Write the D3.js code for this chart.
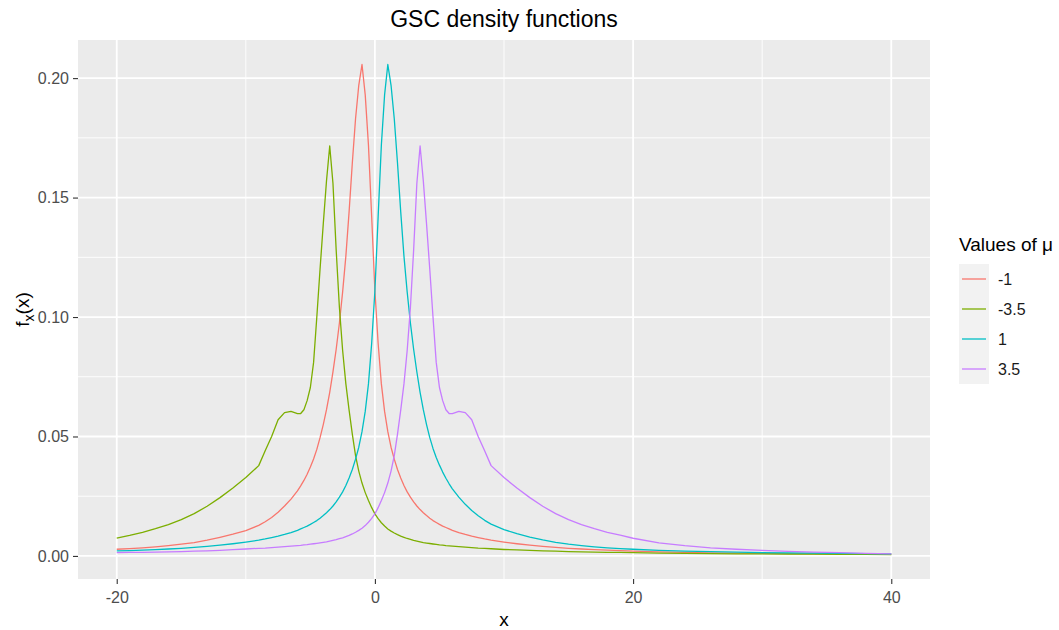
<!DOCTYPE html>
<html>
<head>
<meta charset="utf-8">
<title>GSC density functions</title>
<style>
  body { margin: 0; background: #fff; }
  svg { display: block; font-family: "Liberation Sans", Arial, sans-serif; }
</style>
</head>
<body>
<script src="https://cdn.jsdelivr.net/npm/d3@7"></script>
<script>

// x grid shared by all four curves
var xGrid = [-20,-19,-18,-17,-16,-15,-14,-13,-12,-11,-10,-9,-8.5,-8,-7.5,-7,-6.5,-6,
  -5.75,-5.5,-5.25,-5,-4.75,-4.5,-4.25,-4,-3.75,-3.5,-3.25,-3,-2.75,-2.5,-2.25,-2,-1.75,-1.5,-1.25,-1,
  -0.75,-0.5,-0.25,0,0.25,0.5,0.75,1,1.25,1.5,1.75,2,2.25,2.5,2.75,3,3.25,3.5,3.75,4,4.25,4.5,4.75,5,
  5.25,5.5,5.75,6,6.5,7,7.5,8,8.5,9,10,11,12,13,14,15,16,17,18,19,20,22,24,26,28,30,32,34,36,38,40];

// density values, one array per mu
var muMinus1 = [0.0028,0.0031,0.0034,0.0038,0.0043,0.0049,0.0056,0.0066,0.0078,0.0091,0.0106,0.0128,0.0143,0.0161,0.0183,0.0209,0.0238,0.0272,
  0.0293,0.0316,0.0342,0.0372,0.0406,0.0446,0.0495,0.0550,0.0612,0.0685,0.0770,0.0865,0.0975,0.1105,0.1255,0.1440,0.1645,0.1830,0.1970,0.2057,
  0.1930,0.1720,0.1420,0.1110,0.0890,0.0720,0.0605,0.0520,0.0455,0.0405,0.0362,0.0326,0.0295,0.0268,0.0246,0.0226,0.0209,0.0194,0.0181,0.0169,0.0158,0.0148,0.0140,0.0132,
  0.0125,0.0119,0.0113,0.0107,0.0098,0.0090,0.0083,0.0077,0.0071,0.0066,0.0058,0.0051,0.0045,0.0040,0.0036,0.0032,0.0029,0.0026,0.0024,0.0022,0.0020,0.0017,0.0015,0.0013,0.0012,0.0011,0.0010,0.0009,0.0008,0.0008,0.0007];

var muMinus35 = [0.0075,0.0086,0.0099,0.0114,0.0131,0.0152,0.0177,0.0208,0.0244,0.0284,0.0328,0.0378,0.0440,0.0500,0.0570,0.0600,0.0605,0.0596,
  0.0596,0.0612,0.0650,0.0705,0.0810,0.1000,0.1200,0.1390,0.1570,0.1716,0.1560,0.1280,0.1040,0.0860,0.0720,0.0610,0.0510,0.0420,0.0355,0.0305,
  0.0265,0.0232,0.0202,0.0176,0.0156,0.0139,0.0125,0.0113,0.0104,0.0096,0.0089,0.0083,0.0078,0.0073,0.0069,0.0065,0.0062,0.0059,0.0056,0.0054,0.0052,0.0050,0.0048,0.0046,
  0.0045,0.0043,0.0042,0.0041,0.0039,0.0037,0.0035,0.0033,0.0032,0.0030,0.0027,0.0025,0.0023,0.0021,0.0020,0.0018,0.0017,0.0016,0.0015,0.0015,0.0014,0.0012,0.0011,0.0010,0.0009,0.0009,0.0008,0.0008,0.0007,0.0007,0.0006];

var muPlus1 = [0.0021,0.0022,0.0024,0.0026,0.0029,0.0032,0.0036,0.0040,0.0045,0.0051,0.0058,0.0066,0.0071,0.0077,0.0083,0.0090,0.0098,0.0107,
  0.0113,0.0119,0.0125,0.0132,0.0140,0.0148,0.0158,0.0169,0.0181,0.0194,0.0209,0.0226,0.0246,0.0268,0.0295,0.0326,0.0362,0.0405,0.0455,0.0520,
  0.0605,0.0720,0.0890,0.1110,0.1420,0.1720,0.1930,0.2057,0.1970,0.1830,0.1645,0.1440,0.1255,0.1105,0.0975,0.0865,0.0770,0.0685,0.0612,0.0550,0.0495,0.0450,0.0412,0.0380,
  0.0351,0.0325,0.0302,0.0281,0.0246,0.0216,0.0190,0.0168,0.0149,0.0133,0.0110,0.0093,0.0079,0.0067,0.0057,0.0049,0.0043,0.0038,0.0034,0.0031,0.0028,0.0023,0.0020,0.0018,0.0016,0.0014,0.0013,0.0012,0.0011,0.0010,0.0009];

var muPlus35 = [0.0014,0.0015,0.0015,0.0016,0.0017,0.0018,0.0020,0.0021,0.0023,0.0026,0.0029,0.0032,0.0033,0.0035,0.0037,0.0039,0.0041,0.0043,
  0.0044,0.0046,0.0047,0.0049,0.0051,0.0053,0.0055,0.0057,0.0059,0.0062,0.0065,0.0068,0.0072,0.0076,0.0081,0.0086,0.0092,0.0099,0.0107,0.0116,
  0.0127,0.0141,0.0157,0.0176,0.0202,0.0232,0.0265,0.0305,0.0355,0.0420,0.0510,0.0610,0.0720,0.0860,0.1040,0.1280,0.1560,0.1716,0.1570,0.1390,0.1200,0.1000,0.0810,0.0705,
  0.0650,0.0612,0.0596,0.0596,0.0605,0.0600,0.0570,0.0500,0.0440,0.0378,0.0328,0.0284,0.0244,0.0208,0.0177,0.0152,0.0131,0.0114,0.0099,0.0087,0.0074,0.0055,0.0043,0.0034,0.0028,0.0023,0.0019,0.0016,0.0014,0.0011,0.0009];

var seriesNames  = ["-1", "-3.5", "1", "3.5"];
var seriesValues = [muMinus1, muMinus35, muPlus1, muPlus35];
var seriesColors = ["#F8766D", "#7CAE00", "#00BFC4", "#C77CFF"];

var xMajor = [-20, 0, 20, 40];
var xMinor = [-10, 10, 30];
var yMajor = [0, 0.05, 0.10, 0.15, 0.20];
var yMinor = [0.025, 0.075, 0.125, 0.175];

var W = 1059, H = 630;
var panel = {left: 78, right: 930, top: 40, bottom: 579};

var svg = d3.select("body").append("svg")
    .attr("width", W)
    .attr("height", H);

// ggplot style 5% expansion of the data range
var xExt = d3.extent(xGrid), xPad = (xExt[1] - xExt[0]) * 0.05;
var allY = d3.merge(seriesValues);
var yExt = d3.extent(allY), yPad = (yExt[1] - yExt[0]) * 0.05;

var x = d3.scaleLinear()
    .domain([xExt[0] - xPad, xExt[1] + xPad])
    .range([panel.left, panel.right]);
var y = d3.scaleLinear()
    .domain([yExt[0] - yPad, yExt[1] + yPad])
    .range([panel.bottom, panel.top]);

// panel background
svg.append("rect")
    .attr("x", panel.left).attr("y", panel.top)
    .attr("width", panel.right - panel.left)
    .attr("height", panel.bottom - panel.top)
    .attr("fill", "#EBEBEB");

var grid = svg.append("g");
grid.selectAll(".xmin").data(xMinor).enter().append("line")
    .attr("x1", d => x(d)).attr("x2", d => x(d))
    .attr("y1", panel.top).attr("y2", panel.bottom)
    .attr("stroke", "#fff").attr("stroke-width", 0.9);
grid.selectAll(".ymin").data(yMinor).enter().append("line")
    .attr("y1", d => y(d)).attr("y2", d => y(d))
    .attr("x1", panel.left).attr("x2", panel.right)
    .attr("stroke", "#fff").attr("stroke-width", 0.9);
grid.selectAll(".xmaj").data(xMajor).enter().append("line")
    .attr("x1", d => x(d)).attr("x2", d => x(d))
    .attr("y1", panel.top).attr("y2", panel.bottom)
    .attr("stroke", "#fff").attr("stroke-width", 1.8);
grid.selectAll(".ymaj").data(yMajor).enter().append("line")
    .attr("y1", d => y(d)).attr("y2", d => y(d))
    .attr("x1", panel.left).attr("x2", panel.right)
    .attr("stroke", "#fff").attr("stroke-width", 1.8);

// curves
var line = d3.line()
    .x(d => x(d[0]))
    .y(d => y(d[1]));

seriesValues.forEach(function(vals, i) {
    svg.append("path")
        .datum(xGrid.map((xv, j) => [xv, vals[j]]))
        .attr("d", line)
        .attr("fill", "none")
        .attr("stroke", seriesColors[i])
        .attr("stroke-width", 1.3)
        .attr("stroke-linejoin", "round");
});

// axes
var xAxis = svg.append("g")
    .attr("transform", `translate(0,${panel.bottom})`)
    .call(d3.axisBottom(x).tickValues(xMajor).tickSize(5).tickPadding(5).tickFormat(d => String(d)));
var yAxis = svg.append("g")
    .attr("transform", `translate(${panel.left},0)`)
    .call(d3.axisLeft(y).tickValues(yMajor).tickSize(5).tickPadding(4).tickFormat(d3.format(".2f")));

[xAxis, yAxis].forEach(function(a) {
    a.select(".domain").remove();
    a.selectAll(".tick line").attr("stroke", "#333333").attr("stroke-width", 1.1);
    a.selectAll(".tick text")
        .attr("fill", "#4D4D4D")
        .style("font-size", "16px")
        .style("font-family", "'Liberation Sans', Arial, sans-serif");
});
xAxis.selectAll(".tick text").attr("dy", "0.85em");

// title and axis titles
svg.append("text")
    .attr("x", (panel.left + panel.right) / 2)
    .attr("y", 27)
    .attr("text-anchor", "middle")
    .style("font-size", "23px")
    .text("GSC density functions");

svg.append("text")
    .attr("x", (panel.left + panel.right) / 2)
    .attr("y", 626)
    .attr("text-anchor", "middle")
    .style("font-size", "19px")
    .text("x");

var yTitle = svg.append("text")
    .attr("transform", `translate(29,${(panel.top + panel.bottom) / 2}) rotate(-90)`)
    .attr("text-anchor", "middle")
    .style("font-size", "19px");
yTitle.append("tspan").text("f");
yTitle.append("tspan").attr("dy", 5).style("font-size", "14px").text("x");
yTitle.append("tspan").attr("dy", -5).text("(x)");

// legend
var legend = svg.append("g").attr("transform", "translate(959,0)");
legend.append("text")
    .attr("x", 0).attr("y", 251)
    .style("font-size", "19px")
    .text("Values of \u03bc");

var keyTop = 264, keyH = 30;
var keys = legend.selectAll(".key").data(seriesNames).enter().append("g")
    .attr("class", "key")
    .attr("transform", (d, i) => `translate(0,${keyTop + i * keyH})`);
keys.append("rect")
    .attr("width", 30).attr("height", keyH)
    .attr("fill", "#F2F2F2");
keys.append("line")
    .attr("x1", 3).attr("x2", 27)
    .attr("y1", keyH / 2).attr("y2", keyH / 2)
    .attr("stroke", (d, i) => seriesColors[i])
    .attr("stroke-width", 1.3);
keys.append("text")
    .attr("x", 39).attr("y", keyH / 2)
    .attr("dy", "0.35em")
    .attr("fill", "#1a1a1a")
    .style("font-size", "16px")
    .text(d => d);

</script>
</body>
</html>
